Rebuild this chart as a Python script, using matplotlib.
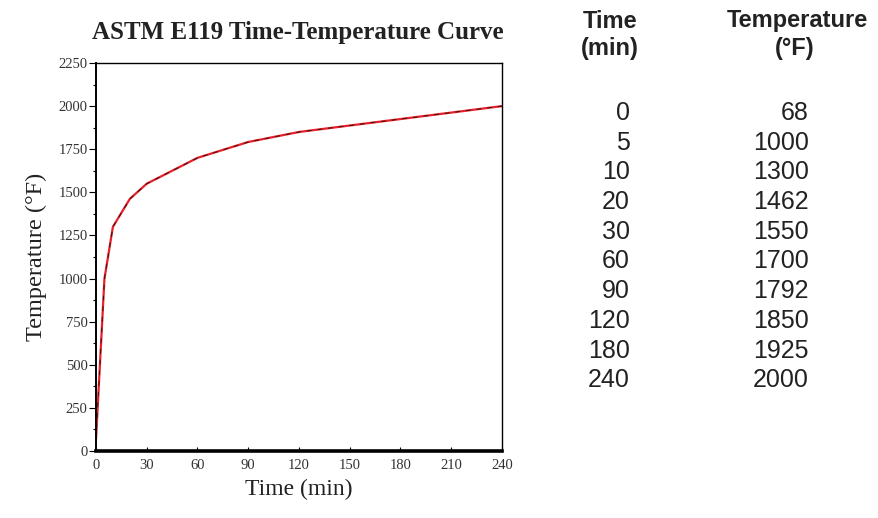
import numpy as np
import matplotlib.pyplot as plt
from matplotlib.ticker import MultipleLocator

# ASTM E119 standard time-temperature points
time_min = [0, 5, 10, 20, 30, 60, 90, 120, 180, 240]
temp_f = [68, 1000, 1300, 1462, 1550, 1700, 1792, 1850, 1925, 2000]

x_ticks = [0, 30, 60, 90, 120, 150, 180, 210, 240]
y_ticks = [0, 250, 500, 750, 1000, 1250, 1500, 1750, 2000, 2250]

serif = ['Liberation Serif', 'DejaVu Serif']
sans = ['Liberation Sans', 'DejaVu Sans']

fig = plt.figure(figsize=(8.79, 5.18), dpi=100)
ax = fig.add_axes([96 / 879, 1 - 451 / 518, 406 / 879, 388 / 518])

# red curve with a thin dark dashed line on top
ax.plot(time_min, temp_f, color='#e8202a', lw=1.6, solid_capstyle='butt')
ax.plot(time_min, temp_f, color='#3a1010', lw=0.7, ls=(0, (5, 6)))

ax.set_xlim(0, 240)
ax.set_ylim(0, 2250)
ax.set_xticks(x_ticks)
ax.set_yticks(y_ticks)
ax.yaxis.set_minor_locator(MultipleLocator(125))

ax.tick_params(axis='x', direction='in', length=3, width=0.8, pad=6, labelsize=10.5)
ax.tick_params(axis='y', which='major', direction='out', length=5, width=0.8, pad=1, labelsize=10.5)
ax.tick_params(axis='y', which='minor', direction='out', length=2.5, width=0.8)
for lab in ax.get_xticklabels() + ax.get_yticklabels():
    lab.set_family(serif)
    lab.set_color('#333333')

for side in ['top', 'right']:
    ax.spines[side].set_linewidth(1.0)
ax.spines['left'].set_linewidth(1.4)
ax.spines['bottom'].set_linewidth(2.6)

ax.set_xlabel('Time (min)', family=serif, fontsize=17, color='#222222', labelpad=5)
ax.set_ylabel('Temperature (°F)', family=serif, fontsize=17.5, color='#222222', labelpad=8)

fig.text(298 / 879, 1 - 33 / 518, 'ASTM E119 Time-Temperature Curve', family=serif,
         fontsize=18, fontweight='bold', color='#222222', ha='center', va='center')

# data table on the right
fig.text(610 / 879, 1 - 21 / 518, 'Time', family=sans, fontsize=17, fontweight='bold',
         color='#222222', ha='center', va='center')
fig.text(610 / 879, 1 - 48 / 518, '(min)', family=sans, fontsize=17, fontweight='bold',
         color='#222222', ha='center', va='center')
fig.text(797 / 879, 1 - 21 / 518, 'Temperature', family=sans, fontsize=17, fontweight='bold',
         color='#222222', ha='center', va='center')
fig.text(795 / 879, 1 - 48 / 518, '(°F)', family=sans, fontsize=17, fontweight='bold',
         color='#222222', ha='center', va='center')

row0, step = 113, 29.7
for i, (t, T) in enumerate(zip(time_min, temp_f)):
    y = 1 - (row0 + i * step) / 518
    fig.text(630 / 879, y, str(t), family=sans, fontsize=18, color='#222222',
             ha='right', va='center')
    fig.text(809 / 879, y, str(T), family=sans, fontsize=18, color='#222222',
             ha='right', va='center')

fig.savefig('out.png', dpi=100)
